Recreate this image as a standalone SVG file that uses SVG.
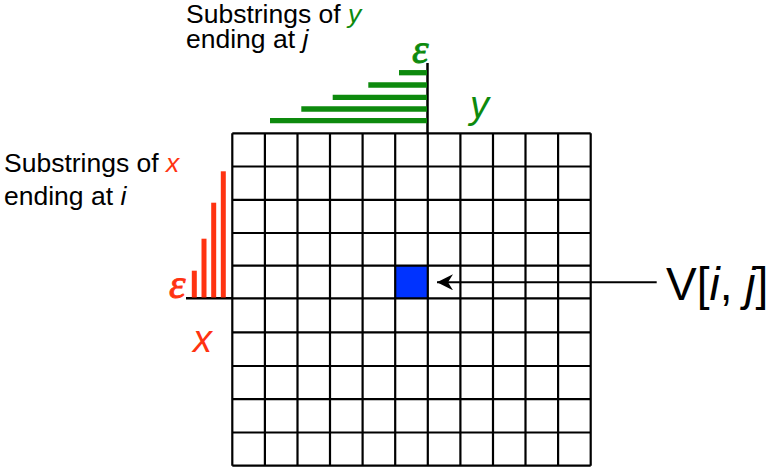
<svg xmlns="http://www.w3.org/2000/svg" width="769" height="468" viewBox="0 0 769 468">
<style>
.lbl{font-family:"Liberation Sans",Arial,sans-serif;font-size:26.5px;fill:#000}
.it{font-style:italic}
.grid{fill:none;stroke:#000;stroke-width:2.2}
.gbar{stroke:#0d8a0d;stroke-width:5.3}
.rbar{stroke:#ff3311;stroke-width:5}
.eps{font-family:"Liberation Serif","Times New Roman",serif;font-style:italic;font-size:42px;stroke-width:0.8}
.var{font-family:"Liberation Sans",Arial,sans-serif;font-style:italic;font-size:38px}
</style>
<defs>
<marker id="ah" markerWidth="18" markerHeight="18" refX="17" refY="8" orient="auto" markerUnits="userSpaceOnUse">
<path d="M17,8 L1,0 L6,8 L1,16 Z" fill="#000"/>
</marker>
</defs>
<rect width="769" height="468" fill="#fff"/>
<g id="labels">
<text class="lbl" x="186" y="23">Substrings of <tspan class="it" fill="#0d8a0d">y</tspan></text>
<text class="lbl" x="186" y="48">ending at <tspan class="it">j</tspan></text>
<text class="lbl" x="4" y="172">Substrings of <tspan class="it" fill="#ff3311">x</tspan></text>
<text class="lbl" x="4" y="205">ending at <tspan class="it">i</tspan></text>
</g>
<g id="matrix">
<rect x="395.7" y="265.7" width="31.6" height="32.6" fill="#0033ff"/>
<path class="grid" d="M232.3,133.3V465.7M264.9,133.3V465.7M297.5,133.3V465.7M330.0,133.3V465.7M362.6,133.3V465.7M395.2,133.3V465.7M427.8,133.3V465.7M460.4,133.3V465.7M493.0,133.3V465.7M525.5,133.3V465.7M558.1,133.3V465.7M590.7,133.3V465.7M232.3,133.3H590.7M232.3,166.5H590.7M232.3,199.8H590.7M232.3,233.0H590.7M232.3,265.7H590.7M232.3,298.3H590.7M232.3,332.3H590.7M232.3,366.0H590.7M232.3,399.2H590.7M232.3,432.5H590.7M232.3,465.7H590.7"/>
</g>
<g id="y-axis">
<line x1="427.5" y1="63" x2="427.5" y2="134" stroke="#000" stroke-width="2.5"/>
<line class="gbar" x1="399" y1="72.7" x2="427" y2="72.7"/>
<line class="gbar" x1="368.3" y1="85" x2="427" y2="85"/>
<line class="gbar" x1="332.7" y1="97.3" x2="427" y2="97.3"/>
<line class="gbar" x1="301.3" y1="109" x2="427" y2="109"/>
<line class="gbar" x1="270" y1="120.7" x2="427" y2="120.7"/>
<text class="eps" x="412" y="63" fill="#0d8a0d" stroke="#0d8a0d">ε</text>
<text class="var" x="470" y="118" fill="#0d8a0d">y</text>
</g>
<g id="x-axis">
<line x1="186" y1="298.3" x2="233" y2="298.3" stroke="#000" stroke-width="2.5"/>
<line class="rbar" x1="194.3" y1="270.7" x2="194.3" y2="297.5"/>
<line class="rbar" x1="204" y1="238.7" x2="204" y2="297.5"/>
<line class="rbar" x1="213.7" y1="202.7" x2="213.7" y2="297.5"/>
<line class="rbar" x1="223.3" y1="171.3" x2="223.3" y2="297.5"/>
<text class="eps" x="169" y="298" fill="#ff3311" stroke="#ff3311">ε</text>
<text class="var" x="193" y="352" fill="#ff3311">x</text>
</g>
<g id="connectors">
<line x1="656.7" y1="282.3" x2="437" y2="282.3" stroke="#000" stroke-width="2" marker-end="url(#ah)"/>
</g>
<g id="vij">
<text x="666" y="300" font-family="'Liberation Sans',Arial,sans-serif" font-size="46" fill="#000">V[<tspan font-style="italic">i</tspan>, <tspan font-style="italic">j</tspan>]</text>
</g>
</svg>
